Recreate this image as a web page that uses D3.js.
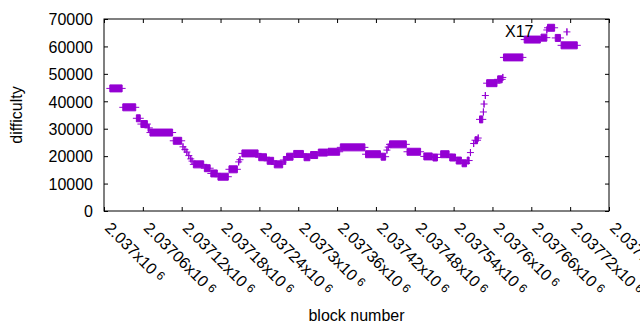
<!DOCTYPE html>
<html>
<head>
<meta charset="utf-8">
<script src="https://cdn.jsdelivr.net/npm/d3@7"></script>
<style>
  body { margin: 0; background: #fff; }
  text { font-family: "Liberation Sans", Arial, sans-serif; font-size: 16px; fill: #000; }
</style>
</head>
<body>
<div id="chart"></div>
<script>
// runs of consecutive blocks sharing the same difficulty (first block, last block, value)
var runFirst = [2037009, 2037029, 2037050, 2037057, 2037068, 2037071, 2037107, 2037122, 2037125, 2037128,
  2037131, 2037134, 2037136, 2037138, 2037155, 2037165, 2037176, 2037193, 2037208, 2037210,
  2037213, 2037239, 2037252, 2037263, 2037277, 2037282, 2037293, 2037309, 2037319, 2037331,
  2037346, 2037365, 2037404, 2037428, 2037437, 2037439, 2037441, 2037468, 2037494, 2037508,
  2037520, 2037534, 2037544, 2037553, 2037561, 2037566, 2037571, 2037573, 2037578, 2037580,
  2037586, 2037587, 2037589, 2037591, 2037608, 2037616, 2037617, 2037649, 2037675, 2037684,
  2037685, 2037697, 2037715, 2037706];
var runLast = [2037028, 2037049, 2037056, 2037067, 2037070, 2037106, 2037120, 2037122, 2037125, 2037128,
  2037131, 2037134, 2037136, 2037154, 2037164, 2037175, 2037192, 2037206, 2037208, 2037210,
  2037238, 2037251, 2037262, 2037276, 2037281, 2037292, 2037308, 2037318, 2037330, 2037345,
  2037364, 2037403, 2037427, 2037435, 2037437, 2037439, 2037467, 2037489, 2037507, 2037515,
  2037533, 2037543, 2037552, 2037560, 2037564, 2037566, 2037571, 2037577, 2037578, 2037585,
  2037586, 2037587, 2037589, 2037607, 2037615, 2037616, 2037647, 2037674, 2037684, 2037684,
  2037696, 2037705, 2037715, 2037731];
var difficulty = [44700, 37800, 33800, 31700, 30300, 28600, 25600, 23400, 22400, 21500,
  20200, 19000, 18200, 17000, 15600, 13700, 12500, 15200, 17900, 18700,
  21000, 19600, 18300, 17000, 18600, 19800, 20800, 19600, 20400, 21300,
  21600, 23200, 20700, 19800, 22200, 23300, 24300, 21600, 19900, 19500,
  20700, 19500, 18400, 17400, 18400, 21300, 24600, 25800, 26600, 33400,
  36100, 39000, 42100, 46600, 48000, 48700, 56000, 62500, 63200, 66000,
  66800, 63100, 65300, 60400];

var xTicks = [2037000, 2037060, 2037120, 2037180, 2037240, 2037300, 2037360,
  2037420, 2037480, 2037540, 2037600, 2037660, 2037720, 2037780];
var xTickLabels = ["2.037", "2.03706", "2.03712", "2.03718", "2.03724", "2.0373", "2.03736",
  "2.03742", "2.03748", "2.03754", "2.0376", "2.03766", "2.03772", "2.03778"];
var yTicks = [0, 10000, 20000, 30000, 40000, 50000, 60000, 70000];

var width = 640, height = 330;
var plotLeft = 104, plotRight = 609, plotTop = 19, plotBottom = 211;
var color = "#9400d3";
var half = 3.5; // half size of the "+" point

var runs = runFirst.map(function (f, i) {
  return { first: f, last: runLast[i], value: difficulty[i] };
});

var svg = d3.select("#chart").append("svg")
  .attr("width", width)
  .attr("height", height);

svg.append("rect").attr("width", width).attr("height", height).attr("fill", "#fff");

var x = d3.scaleLinear().domain([2037000, 2037780]).range([plotLeft, plotRight]);
var y = d3.scaleLinear().domain([0, 70000]).range([plotBottom, plotTop]);

// y axis, ticks pointing inward, with mirror on the right
var yAxis = svg.append("g")
  .attr("transform", "translate(" + plotLeft + ",0)")
  .call(d3.axisLeft(y).tickValues(yTicks).tickSizeInner(-4).tickSizeOuter(0).tickPadding(11).tickFormat(d3.format("d")));
yAxis.select(".domain").remove();
yAxis.selectAll("text").style("font-size", "16px").style("font-family", null).attr("dy", "0.36em");

var yMirror = svg.append("g")
  .attr("transform", "translate(" + plotRight + ",0)")
  .call(d3.axisRight(y).tickValues(yTicks).tickSizeInner(-4).tickSizeOuter(0).tickFormat(""));
yMirror.select(".domain").remove();

// x axis
var xAxis = svg.append("g")
  .attr("transform", "translate(0," + plotBottom + ")")
  .call(d3.axisBottom(x).tickValues(xTicks).tickSizeInner(-4).tickSizeOuter(0).tickFormat(""));
xAxis.select(".domain").remove();

var xMirror = svg.append("g")
  .attr("transform", "translate(0," + plotTop + ")")
  .call(d3.axisTop(x).tickValues(xTicks).tickSizeInner(-4).tickSizeOuter(0).tickFormat(""));
xMirror.select(".domain").remove();

svg.selectAll(".tick line").attr("stroke", "#000");

// rotated x tick labels
var xl = svg.append("g").selectAll("text")
  .data(xTicks)
  .join("text")
  .attr("transform", function (d) { return "translate(" + x(d) + "," + (plotBottom + 18) + ") rotate(45)"; });
xl.append("tspan").text(function (d, i) { return xTickLabels[i] + "x10"; });
xl.append("tspan").attr("dx", 4).attr("dy", -3).style("font-size", "12px").text("6");

// border
svg.append("rect")
  .attr("x", plotLeft).attr("y", plotTop)
  .attr("width", plotRight - plotLeft).attr("height", plotBottom - plotTop)
  .attr("fill", "none").attr("stroke", "#000").attr("stroke-width", 1);

// points: each run of "+" marks merges into a bar
svg.append("g")
  .selectAll("path")
  .data(runs)
  .join("path")
  .attr("fill", color)
  .attr("stroke", color)
  .attr("stroke-width", 1)
  .attr("d", function (d) {
    var x1 = x(d.first), x2 = x(d.last), yy = y(d.value);
    return "M" + (x1 - half) + "," + yy + "H" + (x2 + half) +
      "M" + x1 + "," + (yy - half) + "V" + (yy + half) + "H" + x2 + "V" + (yy - half) + "Z";
  });

svg.append("text").attr("x", 505).attr("y", 37).text("X17");

svg.append("text")
  .attr("transform", "translate(22," + ((plotTop + plotBottom) / 2) + ") rotate(-90)")
  .attr("text-anchor", "middle")
  .text("difficulty");

svg.append("text")
  .attr("x", (plotLeft + plotRight) / 2)
  .attr("y", 321)
  .attr("text-anchor", "middle")
  .text("block number");
</script>
</body>
</html>
